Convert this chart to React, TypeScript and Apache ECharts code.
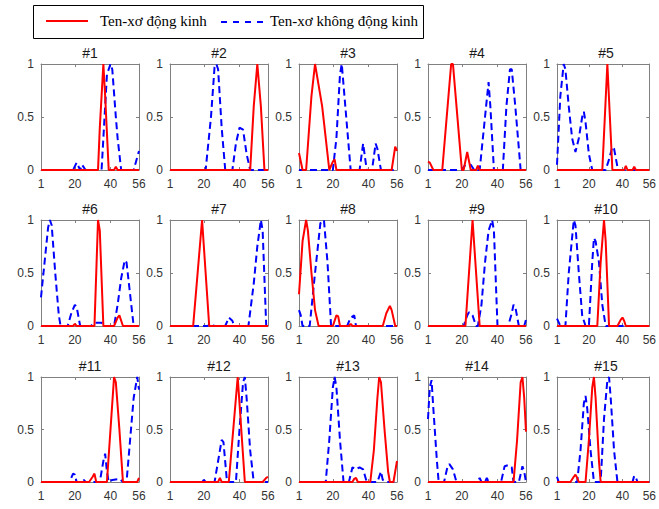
import React, { useEffect, useRef } from "react";
import * as echarts from "echarts";

type P = [number, number][];

const titles = ["#1", "#2", "#3", "#4", "#5", "#6", "#7", "#8", "#9", "#10", "#11", "#12", "#13", "#14", "#15"];
const xTickLabels = [1, 20, 40, 56];
const legendNames = ["Ten-xơ động kinh", "Ten-xơ không động kinh"];

const red1: P = [[1,0],[33,0],[34,0.4],[36,1],[37,0.7],[39,0],[42,0],[43,0.03],[44,0],[56,0]];
const blue1: P = [[1,0],[19,0],[21,0.07],[23,0],[24,0.05],[26,0],[35,0],[37,0.6],[38,0.9],[40,1],[41,0.95],[43,0.5],[44,0.3],[46,0],[53,0],[56,0.18]];
const red2: P = [[1,0],[46,0],[48,0.6],[50,1],[52,0.6],[54,0],[56,0]];
const blue2: P = [[1,0],[21,0],[24,0.5],[26,0.97],[27,1],[28,0.95],[30,0.4],[32,0],[36,0],[38,0.25],[40,0.4],[42,0.38],[44,0.15],[46,0],[56,0]];
const red3: P = [[1,0.16],[3,0],[5,0],[8,0.7],[10,1],[12,0.8],[14,0.6],[16,0.3],[18,0],[20,0.08],[21,0.1],[22,0],[53,0],[55,0.22],[56,0.18]];
const blue3: P = [[1,0],[20,0],[22,0.3],[24,0.9],[25,1],[27,0.6],[29,0.2],[30,0],[35,0],[37,0.25],[39,0],[42,0],[44,0.25],[45,0.2],[47,0],[56,0]];
const red4: P = [[1,0.08],[2,0.07],[4,0],[9,0],[12,0.6],[14,1],[15,1],[17,0.6],[20,0],[21,0],[23,0.17],[25,0],[28,0],[29,0.04],[30,0],[56,0]];
const blue4: P = [[1,0],[20,0],[22,0.05],[25,0.05],[27,0],[30,0],[33,0.5],[35,0.83],[36,0.6],[38,0],[43,0],[45,0.6],[47,0.95],[48,0.95],[50,0.6],[53,0],[56,0]];
const red5: P = [[1,0],[28,0],[31,1],[34,0],[41,0],[42,0.04],[43,0],[46,0],[47,0.03],[48,0],[56,0]];
const blue5: P = [[1,0.05],[3,0.7],[5,1],[6,0.95],[8,0.6],[10,0.3],[12,0.17],[14,0.3],[16,0.5],[17,0.55],[18,0.45],[20,0.15],[22,0],[30,0],[32,0.1],[34,0.22],[35,0.2],[37,0.03],[38,0],[56,0]];
const red6: P = [[1,0],[19,0],[20,0.02],[21,0],[31,0],[33,1],[34,0.9],[36,0],[42,0],[44,0.08],[45,0.1],[47,0],[56,0]];
const blue6: P = [[1,0.27],[3,0.6],[5,0.93],[6,1],[7,0.95],[9,0.5],[11,0.1],[12,0],[16,0],[18,0.12],[20,0.2],[21,0.18],[23,0],[29,0],[31,0.03],[35,0.03],[37,0],[42,0],[44,0.2],[46,0.45],[48,0.62],[49,0.6],[51,0.3],[53,0],[56,0]];
const red7: P = [[1,0],[14,0],[16,0.4],[19,1],[21,0.5],[23,0],[56,0]];
const blue7: P = [[1,0],[22,0],[24,0.02],[26,0],[32,0],[34,0.08],[36,0.05],[37,0],[45,0],[48,0.4],[50,0.75],[52,1],[53,0.9],[55,0],[56,0]];
const red8: P = [[1,0.3],[3,0.8],[5,1],[6,0.9],[8,0.5],[10,0.15],[12,0],[20,0],[22,0.1],[23,0.09],[24,0],[29,0],[30,0.02],[31,0],[48,0],[50,0.12],[52,0.19],[53,0.15],[55,0],[56,0]];
const blue8: P = [[1,0.15],[2,0.1],[3,0],[7,0],[10,0.5],[13,0.97],[15,1],[17,0.6],[19,0],[28,0],[30,0.08],[32,0.1],[33,0],[56,0]];
const red9: P = [[1,0],[22,0],[24,0.5],[26,1],[28,0.5],[30,0],[56,0]];
const blue9: P = [[1,0],[21,0],[23,0.1],[24,0.13],[26,0.1],[28,0],[29,0],[31,0.2],[33,0.6],[35,0.9],[37,1],[38,0.9],[40,0],[46,0],[48,0.12],[49,0.2],[50,0.18],[52,0],[55,0],[56,0.06]];
const red10: P = [[1,0],[25,0],[27,0.6],[29,1],[30,0.8],[32,0],[37,0],[39,0.06],[40,0.08],[41,0.05],[42,0],[56,0]];
const blue10: P = [[1,0.07],[3,0],[6,0],[8,0.5],[11,1],[12,0.95],[14,0.5],[16,0.1],[18,0],[20,0],[22,0.6],[23,0.83],[24,0.8],[26,0.6],[28,0.2],[30,0],[56,0]];
const red11: P = [[1,0],[28,0],[30,0.05],[31,0.08],[32,0],[38,0],[40,0.5],[42,1],[43,0.95],[45,0.5],[47,0],[55,0],[56,0.04]];
const blue11: P = [[1,0],[17,0],[19,0.08],[20,0.07],[21,0],[24,0],[25,0.02],[26,0],[34,0],[36,0.2],[37,0.27],[38,0.1],[39,0],[41,0.02],[45,0.03],[47,0],[49,0],[51,0.4],[53,0.8],[55,1],[56,0.88]];
const red12: P = [[1,0],[28,0],[29,0.04],[30,0],[34,0],[37,0.6],[39,1],[41,0.5],[43,0],[53,0],[55,0.04],[56,0.05]];
const blue12: P = [[1,0],[19,0],[20,0.02],[21,0],[26,0],[28,0.2],[30,0.4],[31,0.38],[33,0],[38,0],[40,0.5],[42,0.95],[43,1],[44,0.8],[46,0.3],[48,0],[56,0]];
const red13: P = [[1,0],[31,0],[32,0.03],[33,0.04],[34,0],[41,0],[43,0.3],[45,0.8],[46,1],[47,0.95],[49,0.5],[51,0.1],[52,0],[54,0],[56,0.2]];
const blue13: P = [[1,0],[16,0],[18,0.4],[20,0.9],[21,1],[22,0.9],[24,0.4],[26,0],[29,0],[31,0.14],[33,0.12],[35,0.14],[37,0.12],[39,0],[45,0],[47,0.1],[48,0.02],[50,0],[56,0]];
const red14: P = [[1,0],[49,0],[51,0.4],[53,0.95],[54,1],[55,0.8],[56,0.48]];
const blue14: P = [[1,0.6],[2,0.9],[3,0.97],[4,0.7],[6,0.2],[7,0],[10,0],[12,0.15],[13,0.17],[15,0.12],[17,0],[29,0],[30,0.04],[31,0],[33,0],[34,0.04],[35,0],[42,0],[44,0.15],[46,0.16],[48,0.14],[49,0],[52,0],[54,0.15],[55,0.1],[56,0]];
const red15: P = [[1,0],[9,0],[11,0.05],[12,0.07],[13,0.04],[14,0],[18,0],[20,0.4],[22,0.9],[23,1],[24,0.8],[26,0.2],[27,0],[56,0]];
const blue15: P = [[1,0.05],[2,0],[13,0],[15,0.3],[17,0.75],[18,0.82],[19,0.7],[21,0.3],[23,0],[27,0],[29,0.6],[31,0.97],[32,1],[33,0.8],[35,0.3],[37,0],[46,0],[47,0.06],[48,0.04],[49,0],[56,0]];

const reds = [red1, red2, red3, red4, red5, red6, red7, red8, red9, red10, red11, red12, red13, red14, red15];
const blues = [blue1, blue2, blue3, blue4, blue5, blue6, blue7, blue8, blue9, blue10, blue11, blue12, blue13, blue14, blue15];

export default function App() {
  const ref = useRef<HTMLDivElement>(null);
  useEffect(() => {
    if (!ref.current) return;
    const chart = echarts.init(ref.current, null, { renderer: "svg" });
    const lefts = [41, 170, 299, 428, 557];
    const tops = [64, 220, 377];
    const heights = [106, 106, 105];
    const axisColor = "#808080";
    const textColor = "#333";
    const grids: any[] = [];
    const xAxes: any[] = [];
    const yAxes: any[] = [];
    const series: any[] = [];
    const titleEls: any[] = [];
    for (let i = 0; i < 15; i++) {
      const r = Math.floor(i / 5);
      const c = i % 5;
      grids.push({ left: lefts[c], top: tops[r], width: 98, height: heights[r], containLabel: false });
      xAxes.push({
        type: "value", gridIndex: i, min: 1, max: 56, position: "bottom",
        axisLine: { show: true, lineStyle: { color: axisColor } },
        axisTick: { show: true, inside: true, length: 3, customValues: [20, 40], lineStyle: { color: axisColor } },
        axisLabel: { show: true, customValues: xTickLabels, color: textColor, fontSize: 12, fontFamily: "Liberation Sans, Arial, sans-serif", margin: 8 },
        splitLine: { show: false },
      });
      xAxes.push({
        type: "value", gridIndex: i, min: 1, max: 56, position: "top",
        axisLine: { show: true, onZero: false, lineStyle: { color: axisColor } },
        axisTick: { show: true, inside: true, length: 3, customValues: [20, 40], lineStyle: { color: axisColor } },
        axisLabel: { show: false },
        splitLine: { show: false },
      });
      yAxes.push({
        type: "value", gridIndex: i, min: 0, max: 1, interval: 0.5, position: "left",
        axisLine: { show: true, onZero: false, lineStyle: { color: axisColor } },
        axisTick: { show: true, inside: true, length: 3, lineStyle: { color: axisColor } },
        axisLabel: { show: true, color: textColor, fontSize: 12, fontFamily: "Liberation Sans, Arial, sans-serif", margin: 7 },
        splitLine: { show: false },
      });
      yAxes.push({
        type: "value", gridIndex: i, min: 0, max: 1, interval: 0.5, position: "right",
        axisLine: { show: true, onZero: false, lineStyle: { color: axisColor } },
        axisTick: { show: true, inside: true, length: 3, lineStyle: { color: axisColor } },
        axisLabel: { show: false },
        splitLine: { show: false },
      });
      series.push({
        name: legendNames[1], type: "line", xAxisIndex: 2 * i, yAxisIndex: 2 * i, data: blues[i],
        showSymbol: false, symbol: "none", lineStyle: { color: "#0000ff", width: 2, type: [7, 4] }, z: 2,
      });
      series.push({
        name: legendNames[0], type: "line", xAxisIndex: 2 * i, yAxisIndex: 2 * i, data: reds[i],
        showSymbol: false, symbol: "none", lineStyle: { color: "#ff0000", width: 2 }, z: 3,
      });
      titleEls.push({
        type: "text", x: lefts[c] + 49, y: tops[r] - 4,
        style: { text: titles[i], fill: "#1a1a1a", font: "14px 'Liberation Sans', Arial, sans-serif", textAlign: "center", textVerticalAlign: "bottom" },
      });
    }
    const graphic: any[] = [
      { type: "rect", shape: { x: 33.5, y: 5.5, width: 390, height: 33 }, style: { fill: "#fff", stroke: "#000", lineWidth: 1 } },
      { type: "line", shape: { x1: 46, y1: 21, x2: 88, y2: 21 }, style: { stroke: "#ff0000", lineWidth: 2 } },
      { type: "text", x: 100, y: 21, style: { text: legendNames[0], fill: "#000", font: "15px 'Liberation Serif', 'Times New Roman', serif", textVerticalAlign: "middle" } },
      { type: "line", shape: { x1: 221, y1: 22, x2: 263, y2: 22 }, style: { stroke: "#0000ff", lineWidth: 2, lineDash: [6, 6] } },
      { type: "text", x: 270, y: 21, style: { text: legendNames[1], fill: "#000", font: "15px 'Liberation Serif', 'Times New Roman', serif", textVerticalAlign: "middle" } },
      ...titleEls,
    ];
    chart.setOption({
      animation: false,
      backgroundColor: "#fff",
      grid: grids,
      xAxis: xAxes,
      yAxis: yAxes,
      series,
      graphic,
    });
    return () => chart.dispose();
  }, []);
  return <div ref={ref} style={{ position: "absolute", left: 0, top: 0, width: 659, height: 509 }} />;
}
